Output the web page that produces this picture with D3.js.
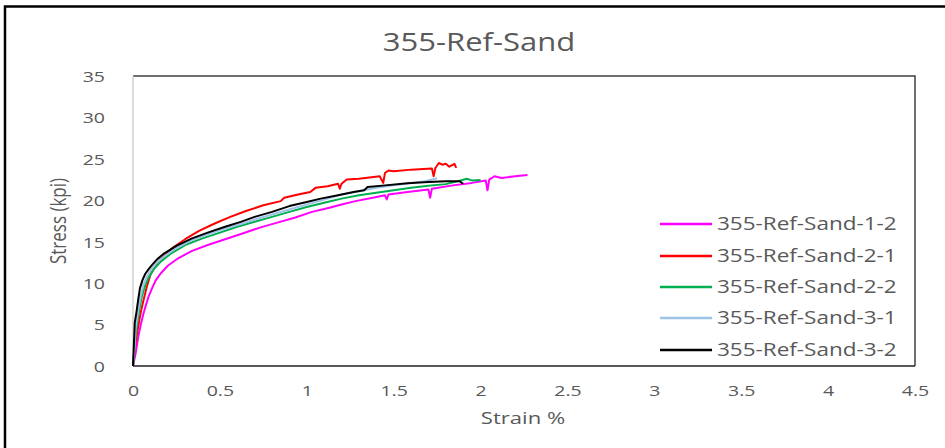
<!DOCTYPE html>
<html>
<head>
<meta charset="utf-8">
<script src="https://cdn.jsdelivr.net/npm/d3@7"></script>
<style>
  html, body { margin: 0; padding: 0; background: #fff; }
  svg { display: block; }
  text { font-family: "Open Sans", "Noto Sans", sans-serif; fill: #595959; }
</style>
</head>
<body>
<svg id="chart" width="945" height="448"></svg>
<script>
// Tensile test results: strain (%) vs stress (kpi)
const chartTitle = "355-Ref-Sand";
const seriesNames = ["355-Ref-Sand-1-2", "355-Ref-Sand-2-1", "355-Ref-Sand-2-2", "355-Ref-Sand-3-1", "355-Ref-Sand-3-2"];
const seriesColors = ["#ff00ff", "#ff0000", "#00b050", "#9dc3e6", "#000000"];
const xTicks = [0, 0.5, 1, 1.5, 2, 2.5, 3, 3.5, 4, 4.5];
const yTicks = [0, 5, 10, 15, 20, 25, 30, 35];

// [strain %, stress kpi]
const sand12 = [[0,0],[0.015,1.5],[0.03,3.5],[0.045,5.0],[0.06,6.3],[0.075,7.4],[0.09,8.4],[0.11,9.4],[0.13,10.3],[0.16,11.2],[0.2,12.1],[0.26,13.0],[0.34,13.9],[0.43,14.6],[0.53,15.3],[0.63,16.0],[0.73,16.7],[0.83,17.3],[0.93,17.9],[1.03,18.6],[1.13,19.1],[1.2,19.5],[1.28,19.9],[1.38,20.3],[1.45,20.6],[1.46,20.1],[1.47,20.7],[1.58,21.0],[1.7,21.3],[1.71,20.3],[1.72,21.4],[1.84,21.8],[1.95,22.1],[2.03,22.4],[2.04,21.2],[2.05,22.5],[2.08,22.9],[2.12,22.7],[2.2,22.9],[2.27,23.05]];
const sand21 = [[0,0],[0.01,2.0],[0.02,3.5],[0.03,4.8],[0.045,6.5],[0.06,7.9],[0.08,9.6],[0.1,11.0],[0.13,12.1],[0.17,13.1],[0.23,14.3],[0.3,15.3],[0.38,16.3],[0.47,17.2],[0.56,18.0],[0.65,18.7],[0.75,19.4],[0.85,19.9],[0.87,20.3],[0.95,20.7],[1.02,21.0],[1.05,21.5],[1.12,21.7],[1.18,22.0],[1.19,21.4],[1.2,22.0],[1.23,22.5],[1.3,22.6],[1.42,22.9],[1.44,22.1],[1.45,23.3],[1.47,23.6],[1.5,23.5],[1.6,23.7],[1.72,23.85],[1.73,22.9],[1.74,23.9],[1.76,24.5],[1.78,24.3],[1.8,24.4],[1.82,24.05],[1.85,24.4],[1.86,23.9]];
const sand22 = [[0,0],[0.01,2.5],[0.02,4.6],[0.035,6.7],[0.05,8.3],[0.07,9.7],[0.09,10.7],[0.12,11.7],[0.16,12.6],[0.22,13.6],[0.3,14.6],[0.4,15.4],[0.5,16.1],[0.6,16.8],[0.7,17.4],[0.8,18.0],[0.9,18.6],[1.0,19.2],[1.1,19.7],[1.2,20.2],[1.3,20.6],[1.4,20.9],[1.5,21.2],[1.6,21.5],[1.7,21.75],[1.8,21.95],[1.88,22.35],[1.92,22.6],[1.95,22.4],[2.0,22.45]];
const sand31 = [[0,0],[0.008,2.0],[0.015,4.5],[0.03,6.8],[0.045,8.5],[0.06,9.8],[0.08,10.8],[0.1,11.5],[0.13,12.3],[0.17,13.1],[0.24,14.1],[0.33,15.1],[0.43,15.9],[0.53,16.6],[0.63,17.2],[0.72,17.8],[0.82,18.4],[0.92,19.0],[1.02,19.6],[1.12,20.2],[1.2,20.7],[1.3,21.1],[1.4,21.5],[1.5,21.8],[1.6,22.1],[1.68,22.3],[1.75,22.65]];
const sand32 = [[0,0],[0.005,2.5],[0.01,5.2],[0.02,6.5],[0.03,8.0],[0.04,9.4],[0.055,10.4],[0.07,11.1],[0.09,11.7],[0.11,12.2],[0.14,12.9],[0.18,13.6],[0.25,14.5],[0.34,15.4],[0.43,16.1],[0.53,16.8],[0.62,17.4],[0.7,18.0],[0.8,18.6],[0.9,19.3],[1.0,19.8],[1.08,20.2],[1.18,20.6],[1.27,21.0],[1.33,21.2],[1.35,21.6],[1.45,21.8],[1.58,22.05],[1.7,22.2],[1.8,22.3],[1.88,22.3],[1.9,22.0]];
const seriesData = [sand12, sand21, sand22, sand31, sand32];

const svg = d3.select("#chart");
const plot = { left: 133, right: 915, top: 76, bottom: 366 };
const SX = 1.3; // horizontal glyph widening

// outer chart frame
svg.append("rect")
  .attr("x", 5).attr("y", 6.5).attr("width", 1000).attr("height", 500)
  .attr("fill", "#fff").attr("stroke", "#000").attr("stroke-width", 2.5);

const x = d3.scaleLinear().domain([0, 4.5]).range([plot.left, plot.right]);
const y = d3.scaleLinear().domain([0, 35]).range([plot.bottom, plot.top]);

// plot area border
svg.append("path")
  .attr("d", `M${plot.left},${plot.top}H${plot.right}V${plot.bottom}`)
  .attr("fill", "none").attr("stroke", "#404040").attr("stroke-width", 1.5);

// axes
const xAxis = svg.append("g")
  .attr("transform", `translate(0,${plot.bottom})`)
  .call(d3.axisBottom(x).tickValues(xTicks).tickSize(0).tickPadding(0).tickFormat(d => String(d)));
xAxis.select(".domain").remove();
xAxis.selectAll("text")
  .attr("y", 30).attr("dy", null)
  .attr("transform", `scale(${SX},1)`)
  .style("font-size", "15px").style("font-family", "'Open Sans', sans-serif").attr("fill", "#595959");

const yAxis = svg.append("g")
  .attr("transform", `translate(${plot.left},0)`)
  .call(d3.axisLeft(y).tickValues(yTicks).tickSize(0).tickFormat(d => String(d)));
yAxis.select(".domain").remove();
yAxis.selectAll("text")
  .attr("x", -28 / SX).attr("dy", "0.36em")
  .attr("transform", `scale(${SX},1)`)
  .style("font-size", "15px").style("font-family", "'Open Sans', sans-serif").attr("fill", "#595959");

svg.append("line")
  .attr("x1", plot.left).attr("x2", plot.left)
  .attr("y1", plot.top).attr("y2", plot.bottom)
  .attr("stroke", "#d0d0d0").attr("stroke-width", 1.5);

// series
const line = d3.line().x(d => x(d[0])).y(d => y(d[1]));
svg.append("g").selectAll("path")
  .data(seriesData)
  .join("path")
  .attr("d", line)
  .attr("fill", "none")
  .attr("stroke", (d, i) => seriesColors[i])
  .attr("stroke-width", 2)
  .attr("stroke-linejoin", "round");

svg.append("line")
  .attr("x1", plot.left).attr("x2", plot.right)
  .attr("y1", plot.bottom).attr("y2", plot.bottom)
  .attr("stroke", "#202020").attr("stroke-width", 1.5);

// title
svg.append("text")
  .attr("transform", `translate(479,51) scale(1.24,1)`)
  .attr("text-anchor", "middle")
  .style("font-size", "25px")
  .text(chartTitle);

// axis titles
svg.append("text")
  .attr("transform", `translate(523,424) scale(${SX},1)`)
  .attr("text-anchor", "middle")
  .style("font-size", "17px")
  .text("Strain %");

svg.append("text")
  .attr("transform", `translate(66,221) rotate(-90) scale(1,${SX})`)
  .attr("text-anchor", "middle")
  .style("font-size", "17px")
  .text("Stress (kpi)");

// legend
const legendRows = [224, 256, 287, 318, 350];
const legend = svg.append("g").selectAll("g")
  .data(seriesNames)
  .join("g")
  .attr("transform", (d, i) => `translate(0,${legendRows[i]})`);
legend.append("line")
  .attr("x1", 660).attr("x2", 712)
  .attr("stroke", (d, i) => seriesColors[i])
  .attr("stroke-width", 2.5);
legend.append("text")
  .attr("transform", `translate(717,0) scale(1.25,1)`)
  .attr("dy", "0.36em")
  .style("font-size", "18px")
  .text(d => d);
</script>
</body>
</html>
